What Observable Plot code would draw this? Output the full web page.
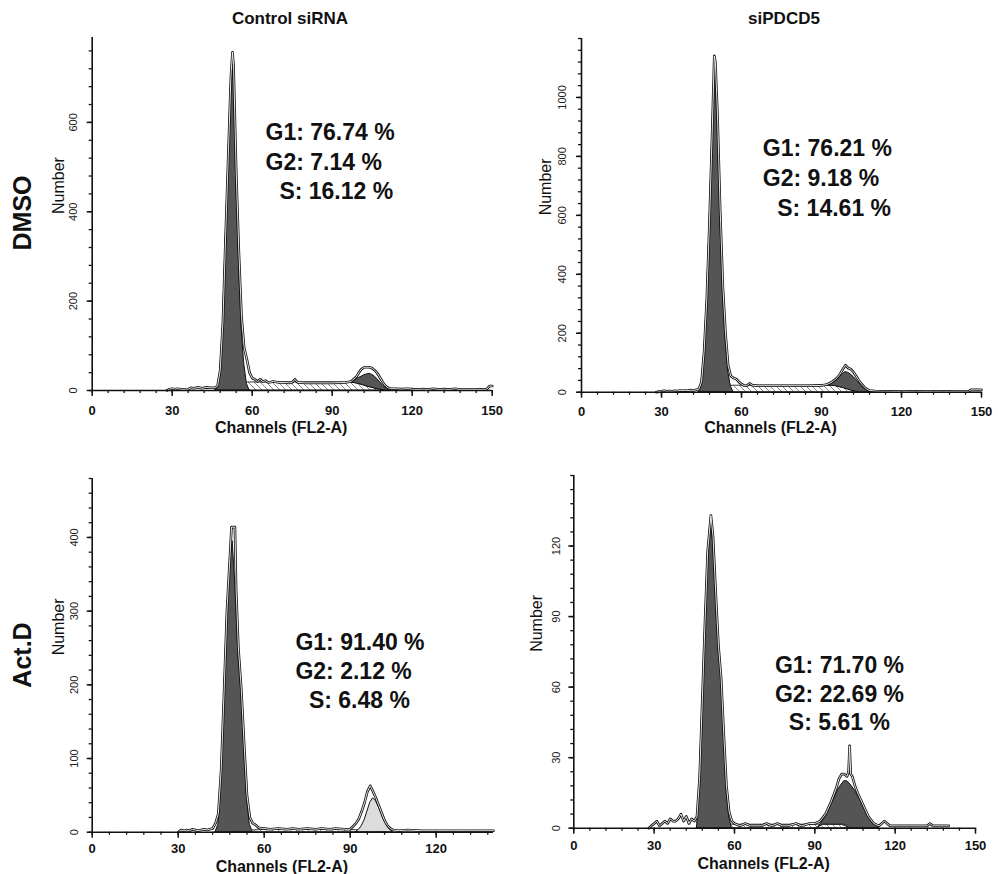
<!DOCTYPE html>
<html><head><meta charset="utf-8">
<script src="https://cdn.jsdelivr.net/npm/d3@7"></script>
<script src="https://cdn.jsdelivr.net/npm/@observablehq/plot@0.6"></script>
<style>
body{margin:0;background:#fff;}
#root{position:relative;width:998px;height:874px;overflow:hidden;font-family:"Liberation Sans",Arial,sans-serif;color:#111;}
.panel{position:absolute;}
.title{position:absolute;font-weight:bold;font-size:17px;transform:translate(-50%,-50%);white-space:nowrap;}
.row{position:absolute;font-weight:bold;font-size:25px;transform:translate(-50%,-50%) rotate(-90deg);white-space:nowrap;}
</style></head><body><div id="root"></div>
<script>
// ---------- labels ----------
const columnTitles = ["Control siRNA", "siPDCD5"];
const rowTitles = ["DMSO", "Act.D"];
const xLabel = "Channels (FL2-A)";
const yLabel = "Number";

// ---------- tick labels ----------
const xTicks150 = [0, 30, 60, 90, 120, 150];
const xTicks140 = [0, 30, 60, 90, 120];
const ctrlDmsoYTicks = [0, 200, 400, 600];
const pdcdDmsoYTicks = [0, 200, 400, 600, 800, 1000];
const ctrlActdYTicks = [0, 100, 200, 300, 400];
const pdcdActdYTicks = [0, 30, 60, 90, 120];

// ---------- phase percentages ----------
const ctrlDmsoPhases = ["G1: 76.74 %", "G2: 7.14 %", "S: 16.12 %"];
const pdcdDmsoPhases = ["G1: 76.21 %", "G2: 9.18 %", "S: 14.61 %"];
const ctrlActdPhases = ["G1: 91.40 %", "G2: 2.12 %", "S: 6.48 %"];
const pdcdActdPhases = ["G1: 71.70 %", "G2: 22.69 %", "S: 5.61 %"];

// ---------- Control siRNA / DMSO : [channel, count] ----------
const ctrlDmsoData = [[28,0],[29,3],[30,4],[31,3],[32,4],[33,3],[34,2],[35,2],[36,3],[37,6],[38,5],[39,6],[40,7],[41,5],[42,6],[43,7],[44,6],[45,6],[46,6],[47,10],[48,45],[49,150],[50,340],[51,520],[52,700],[52.6,757],[53,730],[54,490],[55,310],[56,165],[57,95],[58,70],[59,40],[60,28],[61,25],[62,20],[63,25],[64,20],[65,22],[66,18],[68,20],[70,18],[72,18],[74,17],[75,18],[76,25],[77,18],[80,17],[85,17],[90,17],[95,18],[97,20],[99,30],[100,40],[101,48],[102,52],[103,52],[104,52],[105,50],[106,45],[107,38],[108,28],[109,18],[110,10],[111,6],[112,4],[114,4],[116,3],[118,4],[120,3],[122,2],[124,3],[126,2],[128,4],[130,2],[132,3],[134,2],[136,4],[138,2],[140,2],[144,2],[148,3],[149,10],[150,10]];
const ctrlDmsoG1 = [[46,0],[47,5],[48,40],[49,140],[50,330],[51,500],[52,680],[53,715],[54,470],[55,290],[56,140],[57,60],[58,15],[59,0]];
const ctrlDmsoS = [[48,0],[50,5],[52,10],[54,14],[56,17],[58,18],[60,18],[97,18],[99,16],[101,13],[103,9],[105,6],[107,3],[109,1],[110,0]];
// [channel, lower (S), upper]
const ctrlDmsoG2 = [[97,18,18],[98,17,20],[99,16,24],[100,14.5,28],[101,13,31],[102,11,34],[103,9,36],[104,7.5,37],[105,6,35],[106,4.5,31],[107,3,25],[108,2,18],[109,1,11],[110,0,6],[111,0,3],[112,0,1],[113,0,0]];

// ---------- siPDCD5 / DMSO ----------
const pdcdDmsoData = [[28,0],[29,2],[30,3],[31,5],[32,3],[33,4],[34,3],[35,5],[36,4],[37,6],[38,5],[39,6],[40,5],[41,7],[42,6],[43,8],[44,10],[45,35],[46,140],[47,320],[48,580],[49,880],[49.8,1141],[50.2,1120],[51,940],[52,620],[53,360],[54,200],[55,90],[56,55],[57,48],[58,45],[59,35],[60,28],[61,22],[62,22],[63,30],[64,24],[66,22],[70,22],[75,22],[80,22],[85,22],[90,23],[92,26],[94,35],[95,42],[96,50],[97,62],[98,78],[99,92],[100,82],[101,78],[102,68],[103,55],[104,40],[105,28],[106,18],[107,10],[108,6],[110,4],[112,3],[115,3],[120,2],[125,3],[130,2],[135,3],[140,2],[145,2],[146,8],[149,8],[150,8]];
const pdcdDmsoG1 = [[44,0],[45,30],[46,130],[47,300],[48,560],[49,860],[50,1110],[51,920],[52,600],[53,340],[54,180],[55,70],[56,20],[57,0]];
const pdcdDmsoS = [[45,0],[47,5],[49,10],[51,14],[53,18],[55,21],[57,22],[93,22],[95,21],[97,17],[99,12],[101,6],[103,2],[104,0]];
const pdcdDmsoG2 = [[92,22,22],[93,22,25],[94,21.5,28],[95,21,34],[96,19,42],[97,17,52],[98,14.5,62],[99,12,68],[100,9,66],[101,6,60],[102,4,52],[103,2,42],[104,0,32],[105,0,22],[106,0,13],[107,0,6],[108,0,2],[109,0,0]];

// ---------- Control siRNA / Act.D ----------
const ctrlActdData = [[30,0],[31,3],[32,2],[33,3],[34,2],[35,4],[36,3],[37,2],[38,3],[39,4],[40,3],[41,4],[42,5],[43,12],[44,25],[45,85],[46,190],[47,300],[48,370],[48.6,414],[49.8,414],[50.2,330],[51,250],[52,195],[53,120],[54,50],[55,20],[56,12],[57,10],[58,6],[60,5],[62,4],[65,5],[68,4],[70,5],[72,4],[75,5],[78,4],[80,5],[83,4],[85,5],[88,4],[90,4],[91,8],[92,12],[93,18],[94,28],[95,40],[96,55],[97,63],[98,55],[99,46],[100,36],[101,26],[102,16],[103,9],[104,5],[105,3],[107,2],[110,3],[115,2],[120,2],[125,2],[130,2],[135,2],[140,2]];
const ctrlActdG1 = [[43,0],[44,10],[45,70],[46,180],[47,290],[48,360],[49,395],[50,330],[51,240],[52,190],[53,115],[54,45],[55,10],[56,0]];
const ctrlActdS = [[50,0],[54,2],[60,3],[90,3],[96,2],[102,0]];
const ctrlActdG2 = [[92,0,0],[93,0,3],[94,0,8],[95,0,16],[96,0,28],[97,0,40],[98,0,46],[99,0,42],[100,0,34],[101,0,24],[102,0,15],[103,0,8],[104,0,3],[105,0,0]];

// ---------- siPDCD5 / Act.D ----------
const pdcdActdData = [[28,0],[29,1],[30,2],[31,3],[32,1],[33,2],[34,3],[35,2],[36,4],[37,3],[38,3],[39,4],[40,6],[41,3],[42,5],[43,2],[44,4],[45,3],[46,5],[47,22],[48,55],[49,88],[50,118],[51.2,133],[52,124],[53,100],[54,78],[55,64],[56,40],[57,18],[58,7],[59,3],[60,2],[62,1],[64,2],[66,1],[70,1],[72,2],[74,1],[76,2],[78,1],[80,1],[83,2],[85,1],[88,2],[90,2],[92,3],[94,6],[96,11],[98,17],[99,21],[100,23],[101,23],[102,22],[102.6,24],[103,35],[103.4,23],[104,22],[105,18],[106,15],[108,10],[110,5],[112,2],[114,1],[116,3],[118,1],[120,1],[122,1],[125,1],[130,1],[132,1],[133,2],[134,1],[140,1]];
const pdcdActdG1 = [[46,0],[47,20],[48,52],[49,85],[50,115],[51,130],[52,122],[53,98],[54,76],[55,66],[56,40],[57,16],[58,5],[59,0]];
const pdcdActdS = [[52,0],[54,1.5],[60,1.5],[100,1.5],[103,0]];
const pdcdActdG2 = [[91,0,0],[93,1.5,3],[95,1.5,7],[97,1.5,12],[99,1.5,17],[101,1.5,20],[102,1,20],[103,0,19],[105,0,16],[107,0,12],[109,0,7],[111,0,3],[113,0,1],[114,0,0]];

// ---------- panel layout (positions / styles) ----------
const panels = [
  {id:"p1", data:ctrlDmsoData, g1:ctrlDmsoG1, s:ctrlDmsoS, g2:ctrlDmsoG2, phases:ctrlDmsoPhases,
   xTicks:xTicks150, yTicks:ctrlDmsoYTicks, xDomain:[0,150], yDomain:[0,790], xMinor:6, yMinor:40,
   labelAt:[[65,578],[65,511],[70.2,445]], g2Fill:"#555",
   left:40, top:30, width:460, height:410, mL:51.7, mR:8.3, mT:7, mB:50,
   xLabDy:20, chDy:37, numDx:-33.7, yLabDx:-19},
  {id:"p2", data:pdcdDmsoData, g1:pdcdDmsoG1, s:pdcdDmsoS, g2:pdcdDmsoG2, phases:pdcdDmsoPhases,
   xTicks:xTicks150, yTicks:pdcdDmsoYTicks, xDomain:[0,150], yDomain:[0,1200], xMinor:6, yMinor:40,
   labelAt:[[68,826],[68,724],[73.4,622]], g2Fill:"#555",
   left:510, top:30, width:488, height:410, mL:71, mR:17, mT:8, mB:48.3,
   xLabDy:20, chDy:36, numDx:-36, yLabDx:-19},
  {id:"p3", data:ctrlActdData, g1:ctrlActdG1, s:ctrlActdS, g2:ctrlActdG2, phases:ctrlActdPhases,
   xTicks:xTicks140, yTicks:ctrlActdYTicks, xDomain:[0,140], yDomain:[0,480], xMinor:6, yMinor:20,
   labelAt:[[70.9,257],[70.9,217.5],[75.6,179]], g2Fill:"#dcdcdc",
   left:40, top:460, width:460, height:414, mL:51.7, mR:7, mT:18, mB:42.3,
   xLabDy:17, chDy:35, numDx:-33.7, yLabDx:-17.7},
  {id:"p4", data:pdcdActdData, g1:pdcdActdG1, s:pdcdActdS, g2:pdcdActdG2, phases:pdcdActdPhases,
   xTicks:xTicks150, yTicks:pdcdActdYTicks, xDomain:[0,150], yDomain:[0,150], xMinor:6, yMinor:6,
   labelAt:[[75.1,69],[75.1,57],[80.3,45]], g2Fill:"#555",
   left:510, top:460, width:488, height:414, mL:63.3, mR:23, mT:15, mB:46.3,
   xLabDy:17.3, chDy:35.6, numDx:-36.6, yLabDx:-17.5}
];

const narrow = "'Liberation Sans Narrow','Liberation Sans',Arial,sans-serif";
const root = document.getElementById("root");

function range(lo, hi, step) { const r = []; for (let v = lo; v <= hi + 1e-9; v += step) r.push(v); return r; }

for (const p of panels) {
  const X = d => d[0], Y = d => d[1];
  const svg = Plot.plot({
    width: p.width, height: p.height,
    marginLeft: p.mL, marginRight: p.mR, marginTop: p.mT, marginBottom: p.mB,
    x: {domain: p.xDomain},
    y: {domain: p.yDomain},
    style: {background: "white", overflow: "visible", fontFamily: "'Liberation Sans',Arial,sans-serif", color: "#111"},
    marks: [
      Plot.areaY(p.s, {x: X, y: Y, fill: `url(#hatch-${p.id})`, stroke: "#222", strokeWidth: 0.9}),
      Plot.areaY(p.g1, {x: X, y: Y, fill: "#555", stroke: "#111", strokeWidth: 1}),
      Plot.areaY(p.g2, {x: X, y1: d => d[1], y2: d => d[2], fill: p.g2Fill, stroke: "#111", strokeWidth: 1}),
      Plot.line(p.data, {x: X, y: Y, stroke: "#111", strokeWidth: 2.6}),
      Plot.line(p.data, {x: X, y: Y, stroke: "#fff", strokeWidth: 0.9}),
      Plot.ruleY([0], {stroke: "#111", strokeWidth: 1.6}),
      Plot.ruleX([0], {stroke: "#111", strokeWidth: 1.6}),
      Plot.axisX({ticks: range(p.xDomain[0], p.xDomain[1], p.xMinor), tickSize: 3, tickFormat: () => "", label: null, strokeWidth: 1.3}),
      Plot.axisX({ticks: p.xTicks, tickSize: 6, tickFormat: () => "", label: null, strokeWidth: 1.5}),
      Plot.axisY({ticks: range(p.yDomain[0], p.yDomain[1], p.yMinor), tickSize: 3, tickFormat: () => "", label: null, strokeWidth: 1.3}),
      Plot.axisY({ticks: p.yTicks, tickSize: 5, tickFormat: () => "", label: null, strokeWidth: 1.5}),
      Plot.text(p.xTicks, {x: d => d, frameAnchor: "bottom", dy: p.xLabDy, text: d => `${d}`, fontWeight: "bold", fontSize: 13, fontFamily: narrow, lineAnchor: "middle", fill: "#111"}),
      Plot.text(p.yTicks, {y: d => d, frameAnchor: "left", dx: p.yLabDx, rotate: -90, text: d => `${d}`, fontSize: 11, fontFamily: narrow, textAnchor: "middle", lineAnchor: "middle", fill: "#222"}),
      Plot.text([xLabel], {text: d => d, frameAnchor: "bottom", dy: p.chDy, dx: -11, fontWeight: "bold", fontSize: 16, fontFamily: narrow, lineAnchor: "middle", fill: "#111"}),
      Plot.text([yLabel], {text: d => d, frameAnchor: "left", dx: p.numDx, rotate: -90, fontSize: 16, lineAnchor: "middle", fill: "#111"}),
      Plot.text(p.phases, {x: (d, i) => p.labelAt[i][0], y: (d, i) => p.labelAt[i][1], text: d => d, textAnchor: "start", lineAnchor: "middle", fontSize: 23, fontWeight: "bold", fill: "#111"})
    ]
  });
  svg.insertAdjacentHTML("afterbegin",
    `<defs><pattern id="hatch-${p.id}" patternUnits="userSpaceOnUse" width="6" height="6">` +
    `<rect width="6" height="6" fill="white"/><path d="M-1,-1 L7,7 M-1,5 L1,7 M5,-1 L7,1" stroke="#777" stroke-width="0.9"/></pattern></defs>`);
  const wrap = document.createElement("div");
  wrap.className = "panel";
  wrap.style.left = p.left + "px";
  wrap.style.top = p.top + "px";
  wrap.appendChild(svg);
  root.appendChild(wrap);
}

// column titles
[[290, 19], [784, 19]].forEach(([x, y], i) => {
  const d = document.createElement("div");
  d.className = "title"; d.textContent = columnTitles[i];
  d.style.left = x + "px"; d.style.top = y + "px";
  root.appendChild(d);
});
// row titles
[[22, 213], [22, 655]].forEach(([x, y], i) => {
  const d = document.createElement("div");
  d.className = "row"; d.textContent = rowTitles[i];
  d.style.left = x + "px"; d.style.top = y + "px";
  root.appendChild(d);
});
</script>
</body></html>
